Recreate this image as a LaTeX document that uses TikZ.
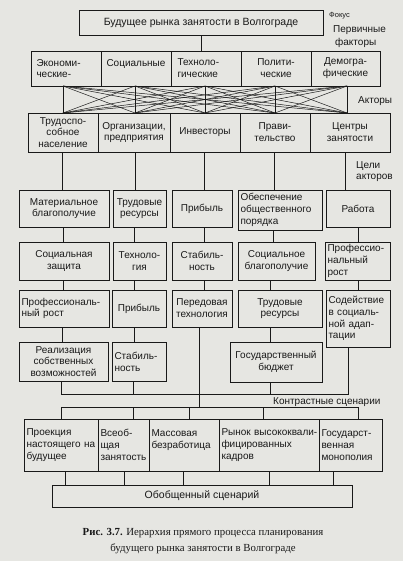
\documentclass[tikz,border=0pt]{standalone}
\usepackage{fontspec}
\setmainfont{Liberation Sans}
\newfontfamily\capfont{Liberation Serif}
\definecolor{bg}{RGB}{230,230,226}
\definecolor{ink}{RGB}{25,25,25}
\tikzset{
 boxst/.style={draw=ink, line width=0.8pt, inner xsep=3pt, inner ysep=1pt, font=\fontsize{10}{11.8}\selectfont, text=ink},
 ln/.style={draw=ink, line width=0.8pt},
 xln/.style={draw=ink, line width=0.5pt},
 lbl/.style={font=\fontsize{10}{11}\selectfont, text=ink, inner sep=0pt, anchor=west},
}
\newcommand\cbox[6]{%
 \pgfmathsetmacro\bw{#4-#2}\pgfmathsetmacro\bh{#5-#3}%
 \pgfmathsetmacro\cx{(#2+#4)/2}\pgfmathsetmacro\cy{(#3+#5)/2}%
 \node[boxst,minimum width=\bw pt,minimum height=\bh pt,align=center] (#1) at (\cx,\cy) {#6};}
\newcommand\lbox[6]{%
 \pgfmathsetmacro\bw{#4-#2}\pgfmathsetmacro\bh{#5-#3}%
 \pgfmathsetmacro\cx{(#2+#4)/2}\pgfmathsetmacro\cy{(#3+#5)/2}\pgfmathsetmacro\tw{#4-#2-5}%
 \node[boxst,inner xsep=2.5pt,minimum width=\bw pt,minimum height=\bh pt,text width=\tw pt,align=left] (#1) at (\cx,\cy) {#6};}
\begin{document}
\begin{tikzpicture}[x=1pt,y=-1pt]
\fill[bg] (0,0) rectangle (403,561);
\useasboundingbox (0,0) rectangle (403,561);
% focus
\cbox{F}{79}{10}{323}{35}{\fontsize{10.5}{12}\selectfont Будущее рынка занятости в Волгограде}
% factors
\lbox{f1}{31}{51}{101}{86}{\hspace{3pt}Экономи-\\\hspace{3pt}ческие-}
\cbox{f2}{101}{51}{171}{86}{Социальные\\\mbox{}}
\lbox{f3}{171}{51}{241}{86}{\hspace{4pt}Техноло-\\\hspace{4pt}гические}
\cbox{f4}{241}{51}{311}{86}{Полити-\\ческие}
\cbox{f5}{311}{51}{380}{86}{Демогра-\\фические}
% actors
\cbox{a1}{28}{113}{98}{152}{Трудоспо-\\собное\\население}
\cbox{a2}{98}{113}{170}{152}{Организации,\\предприятия}
\cbox{a3}{170}{113}{240}{152}{Инвесторы}
\cbox{a4}{240}{113}{310}{152}{Прави-\\тельство}
\cbox{a5}{310}{113}{390}{152}{Центры\\занятости}
% goals row 1
\cbox{g1}{19}{190}{109}{227}{Материальное\\благополучие}
\cbox{g2}{113}{190}{166}{227}{Трудовые\\ресурсы}
\cbox{g3}{172}{190}{232}{227}{Прибыль}
\lbox{g4}{238}{190}{322}{230}{Обеспечение\\общественного\\порядка}
\cbox{g5}{326}{190}{390}{227}{Работа}
% row 2
\cbox{h1}{19}{242}{109}{280}{Социальная\\защита}
\cbox{h2}{113}{242}{166}{280}{Техноло-\\гия}
\cbox{h3}{172}{242}{232}{280}{Стабиль-\\ность}
\cbox{h4}{238}{242}{315}{280}{Социальное\\благополучие}
\lbox{h5}{325}{242}{390}{280}{Профессио-\\нальный\\рост}
% row 3
\lbox{i1}{19}{290}{109}{327}{Профессиональ-\\ный рост}
\cbox{i2}{112}{290}{166}{327}{Прибыль}
\cbox{i3}{172}{290}{232}{327}{Передовая\\технология}
\cbox{i4}{238}{290}{322}{327}{Трудовые\\ресурсы}
\lbox{i5}{326}{290}{390}{347}{Содействие\\в социаль-\\ной адап-\\тации}
% row 4
\cbox{j1}{19}{342}{108}{381}{Реализация\\собственных\\возможностей}
\lbox{j2}{112}{342}{166}{381}{Стабиль-\\ность}
\cbox{j4}{230}{342}{322}{382}{Государственный\\бюджет}
% scenarios
\lbox{s1}{24}{419}{98}{471}{Проекция\\\mbox{настоящего на}\\будущее}
\lbox{s2}{98}{419}{149}{471}{Всеоб-\\щая\\\mbox{занятость}}
\lbox{s3}{149}{419}{219}{471}{Массовая\\безработица\\\mbox{}}
\lbox{s4}{219}{419}{319}{471}{\mbox{Рынок высококвали-}\\фицированных\\кадров}
\lbox{s5}{319}{419}{382}{471}{Государст-\\венная\\монополия}
\cbox{O}{52}{485}{352}{507}{\fontsize{10.5}{12}\selectfont Обобщенный сценарий}
% connectors
\draw[ln] (F.south) -- (F.south |- f3.north);
\foreach \x [count=\i] in {63,135,205,275,347} {
  \coordinate (t\i) at (\x,86);
  \coordinate (b\i) at (\x,113);
}
\foreach \i in {1,...,5} {
  \foreach \j in {1,...,5} { \draw[xln] (t\i) -- (b\j); }
}
\draw[ln] (t1) -- (b1);
\draw[ln] (t5) -- (b5);
\foreach \x/\p/\q in {62/a1/g1,135/a2/g2,204/a3/g3,274/a4/g4,345/a5/g5}
  { \draw[ln] (\p.south -| \x,0) -- (\q.north -| \x,0); }
\foreach \x/\p/\q in {63/g1/h1,134/g2/h2,204/g3/h3,273/g4/h4,358/g5/h5}
  { \draw[ln] (\p.south -| \x,0) -- (\q.north -| \x,0); }
\foreach \x/\p/\q in {63/h1/i1,134/h2/i2,204/h3/i3,270/h4/i4,358/h5/i5}
  { \draw[ln] (\p.south -| \x,0) -- (\q.north -| \x,0); }
\foreach \x/\p/\q in {62/i1/j1,134/i2/j2,270/i4/j4}
  { \draw[ln] (\p.south -| \x,0) -- (\q.north -| \x,0); }
\coordinate (bl) at (61,394);
\coordinate (br) at (348,394);
\draw[ln] (j1.south -| bl) -- (bl) -- (br) -- (i5.south -| br);
\draw[ln] (j2.south -| 133,0) -- (bl -| 133,0);
\draw[ln] (j4.south -| 270,0) -- (bl -| 270,0);
\coordinate (sl) at (61,407);
\coordinate (sr) at (358,407);
\draw[ln] (i3.south -| 199,0) -- (sl -| 199,0);
\draw[ln] (sl) -- (sr);
\foreach \x/\n in {61/s1,133/s2,189/s3,263/s4,358/s5}
  { \draw[ln] (sl -| \x,0) -- (\n.north -| \x,0); }
\foreach \x/\n in {65/s1,124/s2,183/s3,269/s4,333/s5}
  { \draw[ln] (\n.south -| \x,0) -- (O.north -| \x,0); }
% side labels
\node[lbl, font=\fontsize{7.5}{8}\selectfont] (lfoc) at (329,16) {Фокус};
\node[lbl] (lprim) at (333,30) {Первичные};
\node[lbl] (lfac) at (335,43) {факторы};
\node[lbl] (lact) at (358,101) {Акторы};
\node[lbl] (lgoal) at (356,166) {Цели};
\node[lbl] (lgoal2) at (356,178) {акторов};
\node[lbl] (lcon) at (273,402) {Контрастные сценарии};
% caption
\node[font=\capfont\fontsize{10.8}{16}\selectfont, align=center, text=ink] (cap) at (203,541)
  {\textbf{Рис. 3.7.} Иерархия прямого процесса планирования\\будущего рынка занятости в Волгограде};
\end{tikzpicture}
\end{document}
